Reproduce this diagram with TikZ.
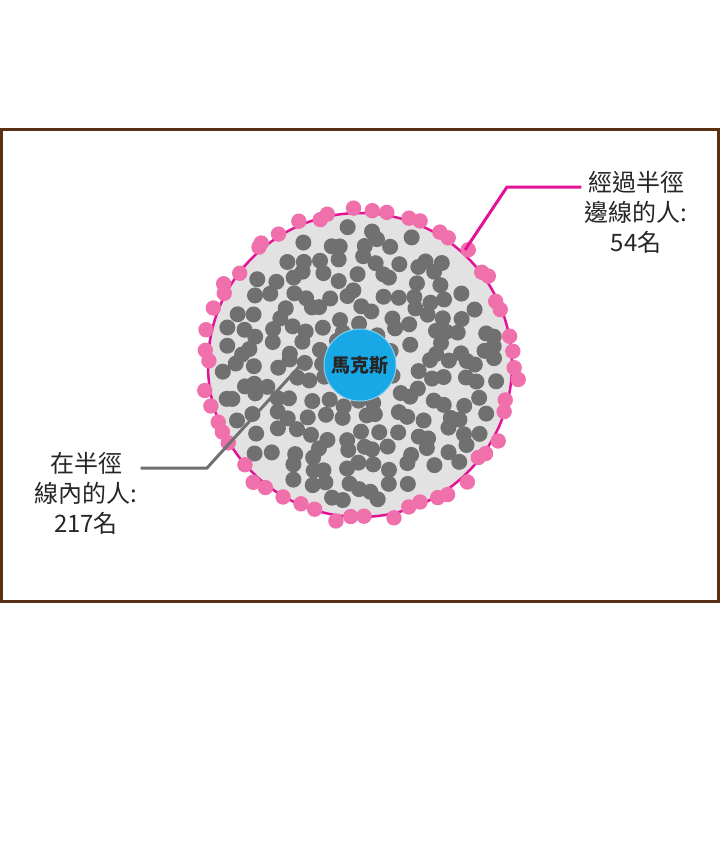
\documentclass[tikz,border=0pt]{standalone}
\usepackage{fontspec}
\newfontfamily\cjk{Noto Sans CJK TC}
\definecolor{frameBrown}{RGB}{88,48,20}
\definecolor{diskGray}{RGB}{226,226,226}
\definecolor{dotGray}{RGB}{112,112,112}
\definecolor{rimPink}{RGB}{240,112,172}
\definecolor{rimMagenta}{RGB}{228,18,150}
\definecolor{marxBlue}{RGB}{24,168,230}

\begin{document}
\begin{tikzpicture}[x=1pt,y=-1pt,
    lbl/.style={font=\cjk\fontsize{24}{30}\selectfont,align=center,
                inner sep=3pt,text=black!85},
    pin/.style={line width=3pt}]

    \useasboundingbox (0,0) rectangle (720,848);
    \fill[white] (0,0) rectangle (720,848);

    % Frame
    \draw[frameBrown,line width=3pt] (1.5,129.5) rectangle (718.5,601.5);

    % Disk
    \coordinate (c) at (360,365);
    \fill[diskGray] (c) circle[radius=152];

    % Inside the radius
    \pgfmathsetseed{271}
    \foreach \gx in {-9,...,9} {
      \foreach \gy in {-9,...,9} {
        \pgfmathsetmacro{\px}{17.3*\gx+7*rand}
        \pgfmathsetmacro{\py}{17.3*\gy+7*rand}
        \pgfmathtruncatemacro{\isin}{veclen(\px,\py)<139}
        \ifnum\isin=1
          \fill[dotGray] (c) ++(\px,\py) circle[radius=8];
        \fi
      }
    }

    % On the rim
    \draw[rimMagenta,line width=2.5pt] (c) circle[radius=152];
    \foreach \i in {1,...,54} {
      \pgfmathsetmacro{\ang}{360/54*\i+3*rand}
      \pgfmathsetmacro{\rad}{154+5*rand}
      \fill[rimPink] (c) ++(\ang:\rad) circle[radius=7.7];
    }

    % Marx
    \node[circle,fill=marxBlue,draw=marxBlue!55!white,line width=1pt,
          minimum size=72pt,inner sep=0pt,
          font=\cjk\fontsize{19}{19}\selectfont\bfseries,text=black!85] (marx) at (c) {馬克斯};

    % Labels
    \node[lbl] (onrim) at (636,212) {經過半徑\\邊線的人:\\54名};
    \node[lbl] (inside) at (86,493) {在半徑\\線內的人:\\217名};

    \coordinate (rimpin) at (465,250);
    \coordinate (rimbend) at (507,187);
    \draw[pin,rimMagenta] (rimpin) -- (rimbend) -- (onrim.west |- rimbend);

    \coordinate (dotpin) at (308,357);
    \coordinate (dotbend) at (207,468);
    \draw[pin,dotGray] (dotpin) -- (dotbend) -- (inside.east |- dotbend);
  \end{tikzpicture}
\end{document}
